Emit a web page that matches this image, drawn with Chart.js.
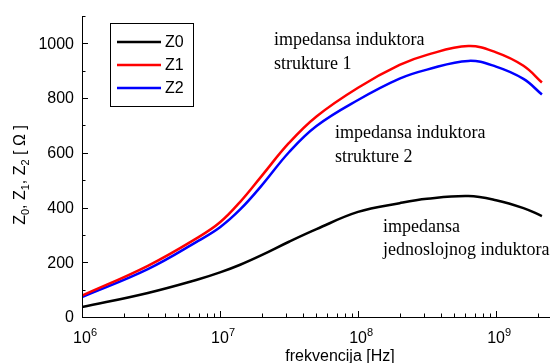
<!DOCTYPE html>
<html>
<head>
<meta charset="utf-8">
<script src="https://cdn.jsdelivr.net/npm/chart.js@4"></script>
<style>
  html, body { margin: 0; padding: 0; background: #fff; }
  canvas { display: block; }
</style>
</head>
<body>
<canvas id="zChart" width="552" height="363"></canvas>
<script>
// frekvencije [Hz]
const freqHz = [1e6, 3e6, 7e6, 1e7, 1.4e7, 2e7, 3.16e7, 5e7, 1e8, 2e8, 3.16e8, 6.3e8, 1e9, 1.58e9, 2.15e9];
// impedanse [Ohm]
const z0 = [36, 88, 138, 163, 191, 226, 275, 321, 384, 416, 432, 442, 427, 398, 369];
const z1 = [78, 187, 292, 346, 421, 515, 636, 733, 838, 921, 958, 990, 967, 918, 857];
const z2 = [73, 175, 279, 328, 393, 480, 602, 698, 793, 871, 904, 936, 915, 870, 813];

const seriesNames = ['Z0', 'Z1', 'Z2'];
const yMajorTicks = [0, 200, 400, 600, 800, 1000];
const yMinorTicks = [100, 300, 500, 700, 900, 1100];
const xDecades = [6, 7, 8, 9];

const sans = '"Liberation Sans", Arial, sans-serif';
const serif = '"Liberation Serif", "Times New Roman", serif';

function pts(vals) {
  return freqHz.map((f, i) => ({ x: f, y: vals[i] }));
}

// tekst sa indeksima: [tekst, 'sub' | 'sup' | null]
function partsWidth(ctx, parts, size) {
  let w = 0;
  parts.forEach(p => {
    ctx.font = (p[1] ? Math.round(size * 0.68) : size) + 'px ' + sans;
    w += ctx.measureText(p[0]).width;
  });
  return w;
}
function drawParts(ctx, parts, x, y, size) {
  parts.forEach(p => {
    const small = Math.round(size * 0.68);
    ctx.font = (p[1] ? small : size) + 'px ' + sans;
    let dy = 0;
    if (p[1] === 'sub') dy = size * 0.25;
    if (p[1] === 'sup') dy = -size * 0.45;
    ctx.fillText(p[0], x, y + dy);
    x += ctx.measureText(p[0]).width;
  });
}

const frame = {
  id: 'frame',
  afterDraw(chart) {
    const ctx = chart.ctx;
    const xs = chart.scales.x, ys = chart.scales.y;
    const left = chart.chartArea.left, right = chart.chartArea.right;
    const bottom = ys.getPixelForValue(0), top = ys.getPixelForValue(1100);
    ctx.save();
    ctx.strokeStyle = '#000';
    ctx.fillStyle = '#000';
    ctx.lineWidth = 1;

    // ose
    ctx.beginPath();
    ctx.moveTo(left + 0.5, top);
    ctx.lineTo(left + 0.5, bottom + 0.5);
    ctx.lineTo(right, bottom + 0.5);
    ctx.stroke();

    // y podeoci i oznake
    ctx.beginPath();
    yMajorTicks.forEach(v => {
      const py = Math.round(ys.getPixelForValue(v)) + 0.5;
      ctx.moveTo(left, py); ctx.lineTo(left + 6, py);
    });
    yMinorTicks.forEach(v => {
      const py = Math.round(ys.getPixelForValue(v)) + 0.5;
      ctx.moveTo(left, py); ctx.lineTo(left + 3.5, py);
    });
    ctx.stroke();
    ctx.font = '16px ' + sans;
    ctx.textAlign = 'right';
    ctx.textBaseline = 'middle';
    yMajorTicks.forEach(v => {
      ctx.fillText(String(v), left - 8, ys.getPixelForValue(v) + 1);
    });

    // x podeoci (log)
    ctx.beginPath();
    xDecades.forEach(d => {
      for (let m = 1; m <= 9; m++) {
        const f = m * Math.pow(10, d);
        if (f > xs.max) break;
        const px = Math.round(xs.getPixelForValue(f)) + 0.5;
        ctx.moveTo(px, bottom);
        ctx.lineTo(px, bottom - (m === 1 ? 6 : 3.5));
      }
    });
    ctx.stroke();
    ctx.textAlign = 'left';
    ctx.textBaseline = 'alphabetic';
    xDecades.forEach(d => {
      const px = xs.getPixelForValue(Math.pow(10, d));
      ctx.font = '16px ' + sans;
      const w10 = ctx.measureText('10').width;
      drawParts(ctx, [['10', null], [String(d), 'sup']], px - w10 / 2, 343, 16);
    });

    // naslovi osa
    ctx.font = '16px ' + sans;
    ctx.textAlign = 'center';
    ctx.fillText('frekvencija [Hz]', 340, 361);

    const yTitle = [['Z', null], ['0', 'sub'], [', Z', null], ['1', 'sub'], [', Z', null], ['2', 'sub'], [' [ \u03A9 ]', null]];
    ctx.textAlign = 'left';
    const tw = partsWidth(ctx, yTitle, 16);
    ctx.save();
    ctx.translate(25, 175);
    ctx.rotate(-Math.PI / 2);
    drawParts(ctx, yTitle, -tw / 2, 0, 16);
    ctx.restore();

    // legenda
    ctx.strokeStyle = '#000';
    ctx.lineWidth = 1;
    ctx.strokeRect(110.5, 23.5, 83, 83);
    ctx.font = '16px ' + sans;
    ctx.textBaseline = 'middle';
    chart.data.datasets.forEach((ds, i) => {
      const ly = 42 + i * 23;
      ctx.strokeStyle = ds.borderColor;
      ctx.lineWidth = 2.5;
      ctx.beginPath();
      ctx.moveTo(117, ly); ctx.lineTo(161, ly);
      ctx.stroke();
      ctx.fillStyle = '#000';
      ctx.fillText(ds.label, 165, ly + 1);
    });

    // opisi krivih
    ctx.font = '18px ' + serif;
    ctx.textBaseline = 'alphabetic';
    ctx.fillStyle = '#000';
    ctx.fillText('impedansa induktora', 274, 45);
    ctx.fillText('strukture 1', 274, 69);
    ctx.fillText('impedansa induktora', 335, 138);
    ctx.fillText('strukture 2', 335, 162);
    ctx.fillText('impedansa', 383, 232);
    ctx.fillText('jednoslojnog induktora', 383, 255);
    ctx.restore();
  }
};

const lineOpts = {
  borderWidth: 2.5,
  pointRadius: 0,
  fill: false,
  tension: 0.4
};

new Chart(document.getElementById('zChart'), {
  type: 'line',
  data: {
    datasets: [
      Object.assign({ label: seriesNames[0], data: pts(z0), borderColor: '#000000' }, lineOpts),
      Object.assign({ label: seriesNames[1], data: pts(z1), borderColor: '#ff0000' }, lineOpts),
      Object.assign({ label: seriesNames[2], data: pts(z2), borderColor: '#0000ff' }, lineOpts)
    ]
  },
  options: {
    responsive: false,
    animation: false,
    devicePixelRatio: 1,
    layout: { padding: { left: 82, right: 2, top: 16, bottom: 46 } },
    plugins: { legend: { display: false }, tooltip: { enabled: false }, title: { display: false } },
    scales: {
      x: { type: 'logarithmic', min: 1e6, max: 2.46e9, display: false },
      y: { type: 'linear', min: 0, max: 1100, display: false }
    }
  },
  plugins: [frame]
});
</script>
</body>
</html>
